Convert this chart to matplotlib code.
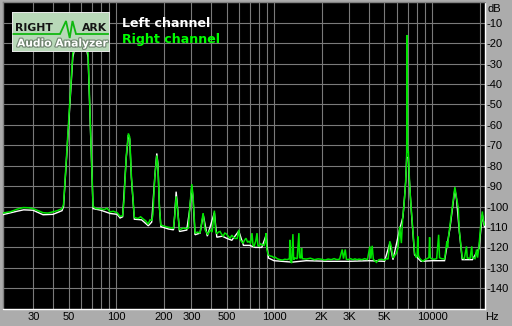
import matplotlib
matplotlib.use("Agg")
import matplotlib.pyplot as plt
from matplotlib.ticker import NullFormatter, FixedLocator
import matplotlib.patheffects as pe
from matplotlib.patches import Rectangle

# ---------------- data ----------------
RIGHT_FREQ = [19.1, 21.5, 23.6, 25.8, 28, 29.8, 32, 34.5, 37, 39.9, 42.5, 45.5, 46.5,
              53.2, 60, 66.5, 71.5, 75, 79.2, 84, 87.7, 91.6, 96, 101.5, 106,
              110, 112, 116, 119.6, 122, 125, 130.5, 138, 143, 148, 154, 159.4, 164,
              168.3, 171, 176, 181, 184, 188, 192, 200, 209.5, 220, 230.6, 235, 240,
              244, 251.6, 258, 266.6, 277, 287, 293, 301.6, 307, 316.3, 328,
              340, 355.5, 366, 381, 393.5, 405, 419, 427, 434, 445, 455, 465, 476, 487,
              497, 512, 527, 540, 550, 567, 584, 598, 609, 622, 636, 650, 664, 680, 694,
              710, 725, 736, 747, 765, 780, 790, 803, 820, 839, 865, 880, 890, 900, 918,
              945, 973, 995, 1016, 1050,
              1091, 1130, 1170, 1210, 1250, 1260, 1270, 1292, 1316, 1330,
              1355, 1400, 1436, 1450, 1478, 1493, 1510, 1600, 1700, 1800, 1900, 2000,
              2100, 2200, 2300, 2400, 2500, 2600, 2700, 2750, 2822, 2870, 2950, 3050,
              3150, 3250, 3350, 3450, 3600, 3750, 3900, 4040, 4100, 4178, 4250, 4450,
              4600, 4800, 5000, 5150, 5270, 5400, 5500, 5660, 5800, 5950, 6100, 6240,
              6320, 6395, 6470, 6548, 6630, 6712, 6810, 6880, 6911, 6960, 7000, 7080,
              7185, 7290, 7395, 7563, 7750, 7950, 8050, 8125, 8200, 8330, 8500, 8740,
              9000, 9300, 9550, 9650, 9750, 9890, 10300, 10700, 11010, 11150, 11460,
              12000, 12420, 12550, 12700, 12960, 13480, 13950, 14300, 14660, 14870,
              15240, 15530, 16000, 16530, 16700, 16920, 17400, 17840, 18000, 18180,
              18700, 19150, 19400, 19820, 20330, 20820, 21100, 21480]
RIGHT_DB = [-103.2, -102.5, -101.3, -100.5, -100.6, -101, -102, -103, -103.2, -102.6, -102, -101, -99,
            -25, -6, -25, -100, -101, -101, -101.5, -100.8, -102.6, -102.3, -103, -104.8,
            -104.5, -98, -75, -64.2, -66, -85, -105.4, -105.8, -105, -106, -107, -108.6, -106.5,
            -106.8, -104, -85, -75, -80, -100, -109, -109.5, -110, -110.3, -110.6, -105, -95,
            -100, -111.4, -111, -110.5, -110.8, -110.5, -100, -89, -95, -113, -112.5,
            -113, -103.2, -111.4, -113.8, -111.4, -112.5, -102, -112, -113.3, -112.5, -112.2, -113.5, -114.6, -113,
            -113.3, -114.5, -115.6, -114, -114.8, -115.6, -115.6, -111.4, -116.3, -117, -118, -116.5, -115.5, -117.5, -117,
            -118, -113, -119, -119.5, -117, -113, -119, -119.5, -118.2, -118.7, -119, -117, -113, -121, -123.6,
            -124.2, -124.4, -125, -124.8, -125.6,
            -126, -126.2, -125.8, -126, -125.5, -116.3, -126.5, -127.7, -113.5, -126,
            -125.2, -125.5, -113, -125, -125.2, -120.3, -125.5, -125.7, -125.3, -126, -125.6, -125.8,
            -126.2, -125.7, -126, -125.5, -126, -125.7, -121, -125.5, -121, -125.8, -126, -125.5,
            -126, -125.6, -126, -125.7, -126, -125.5, -126, -119.5, -125.5, -119.2, -125.8, -127.3,
            -126, -125.8, -126.2, -125.5, -125.7, -117, -119, -125.2, -124, -122.8, -120, -109.8,
            -114, -117.9, -110, -104, -100, -95, -87, -80, -73.1, -16, -73.1, -73.1,
            -86, -95, -101.6, -111.4, -122.8, -125, -124, -114.6, -124, -125.2, -126, -126.8,
            -126, -125.5, -125, -115, -125, -125.5, -125.8, -125.5, -113.8, -125, -125.5,
            -125.7, -117, -120, -115, -109.8, -100, -90.5, -95.9, -100.8, -111.4,
            -119.5, -125.2, -125.5, -119.5, -125.3, -125.2, -125.5, -119.5, -125, -125.2,
            -125.5, -121, -125, -119.5, -109, -102.4, -107, -109]

LEFT_FREQ = [19.1, 23.6, 26, 29.8, 34.5, 39.9, 45.5, 46.5, 53.2, 60, 66.5, 71.5, 80, 92,
             101.5, 106, 110, 116, 119.6, 122, 125, 130.5, 145, 160, 168, 176, 181, 184,
             188, 192, 215, 231, 235, 240, 244, 252, 280, 293, 301.6, 307, 316, 340, 356,
             378, 419, 434, 470, 500, 540, 598, 640, 700, 760, 836, 890, 921, 1000, 1300,
             1600, 2200, 3000, 4000,
             5000, 5400, 5660, 6240, 6548, 6810, 6911, 7080, 7185, 7395, 7750, 8500, 10000,
             12000, 12960, 13950, 14300, 14870, 15530, 18000, 19820, 20820, 21480]
LEFT_DB = [-104, -102.3, -101.6, -101.8, -104, -103.8, -102, -100, -27, -8, -27, -101, -101.8, -103.4,
           -103.8, -105.6, -105, -76, -65, -67, -86, -106.2, -106.5, -109.4, -107.6, -85, -74, -79,
           -100, -109.8, -111, -111.4, -104, -92.7, -99, -112.2, -111.5, -101, -90, -96, -113.8, -113, -104,
           -114.5, -103, -115, -114.5, -115.5, -116.5, -112, -119, -119, -120, -120, -114, -125.2, -126.5, -127.2,
           -126.5, -126.8, -126.8, -126.5,
           -126.8, -118, -126, -111, -105, -88, -76, -76, -87, -102.5, -123.6, -126.8, -126.5,
           -126.5, -111, -91.5, -96.5, -112, -126, -126, -120.5, -104, -110]

X_TICKS = [30, 50, 100, 200, 300, 500, 1000, 2000, 3000, 5000, 10000]
X_LABELS = ["30", "50", "100", "200", "300", "500", "1000", "2K", "3K", "5K", "10000"]
X_GRID = [30, 40, 50, 60, 70, 80, 90, 100, 200, 300, 400, 500, 600, 700, 800, 900,
          1000, 2000, 3000, 4000, 5000, 6000, 7000, 8000, 9000, 10000, 20000]
Y_TICKS = [-10, -20, -30, -40, -50, -60, -70, -80, -90, -100, -110, -120, -130, -140]
Y_LABELS = [str(v) for v in Y_TICKS]

# ---------------- figure ----------------
W, H = 512, 326
BG = "#acacac"
fig = plt.figure(figsize=(W / 100, H / 100), dpi=100, facecolor=BG)

def px(x0, y0, x1, y1):
    return [x0 / W, 1 - y1 / H, (x1 - x0) / W, (y1 - y0) / H]

ax = fig.add_axes(px(2.5, 2.3, 484.5, 308.7))
ax.set_facecolor("black")
ax.set_xscale("log")
ax.set_xlim(19.1, 21480)
ax.set_ylim(-150, 0)

ax.plot(LEFT_FREQ, LEFT_DB, color="white", lw=1.0, zorder=3, solid_joinstyle="miter")
ax.plot(RIGHT_FREQ, RIGHT_DB, color="#00e600", lw=1.1, zorder=4, solid_joinstyle="miter")

ax.xaxis.set_major_locator(FixedLocator(X_TICKS))
ax.set_xticklabels(X_LABELS)
ax.xaxis.set_minor_locator(FixedLocator(X_GRID))
ax.xaxis.set_minor_formatter(NullFormatter())
ax.set_yticks(Y_TICKS)
ax.set_yticklabels(Y_LABELS)
ax.yaxis.tick_right()

ax.grid(False)
for f in X_GRID:
    ax.axvline(f, color="#7a7a7a", lw=0.8, zorder=1)
for v in Y_TICKS:
    ax.axhline(v, color="#7a7a7a", lw=0.8, zorder=1)

ax.tick_params(axis="both", which="both", length=0, labelsize=8, labelcolor="black")
ax.tick_params(axis="x", pad=2.5)
ax.tick_params(axis="y", pad=1.5)
for lab in ax.get_xticklabels() + ax.get_yticklabels():
    lab.set_fontfamily("Liberation Sans")

for s in ("top", "left"):
    ax.spines[s].set_color("#808080")
    ax.spines[s].set_linewidth(1.0)
for s in ("right", "bottom"):
    ax.spines[s].set_color("white")
    ax.spines[s].set_linewidth(1.0)

fig.text(488 / W, 1 - 8.5 / H, "dB", fontsize=8, family="Liberation Sans",
         ha="left", va="center", color="black")
fig.text(492 / W, 1 - 317 / H, "Hz", fontsize=8, family="Liberation Sans",
         ha="center", va="center", color="black")

# legend text
fig.text(122 / W, 1 - 26.7 / H, "Left channel", fontsize=9.1, fontweight="bold",
         family="DejaVu Sans", color="white", ha="left", va="baseline")
fig.text(122 / W, 1 - 42.8 / H, "Right channel", fontsize=9.1, fontweight="bold",
         family="DejaVu Sans", color="#00ff00", ha="left", va="baseline")

# logo
lx0, ly0, lx1, ly1 = 12, 12, 109.5, 51.5
lg = fig.add_axes(px(lx0, ly0, lx1, ly1))
lg.set_xlim(lx0, lx1)
lg.set_ylim(ly1, ly0)
lg.axis("off")
lg.set_zorder(10)
lg.add_patch(Rectangle((lx0, ly0), lx1 - lx0, ly1 - ly0, facecolor="#b8d8b8",
                       edgecolor="#e8e8e8", lw=1.4))
lg.plot([13.5, 60, 66, 69.7, 72.5, 76, 108], [34, 34, 21, 38, 21, 34, 34],
        color="#10b810", lw=1.3, solid_joinstyle="miter")
lg.text(15, 31, "RIGHT", fontsize=7.8, fontweight="bold", color="#151515",
        ha="left", va="baseline", family="DejaVu Sans")
lg.text(107.5, 31, "ARK", fontsize=7.8, fontweight="bold", color="#151515",
        ha="right", va="baseline", family="DejaVu Sans")
lg.text(17, 46.5, "Audio Analyzer", fontsize=7.7, fontweight="bold", color="white",
        ha="left", va="baseline", family="DejaVu Sans",
        path_effects=[pe.withStroke(linewidth=1.6, foreground="#6f846f")])

fig.savefig("out.png", dpi=100, facecolor=BG)
